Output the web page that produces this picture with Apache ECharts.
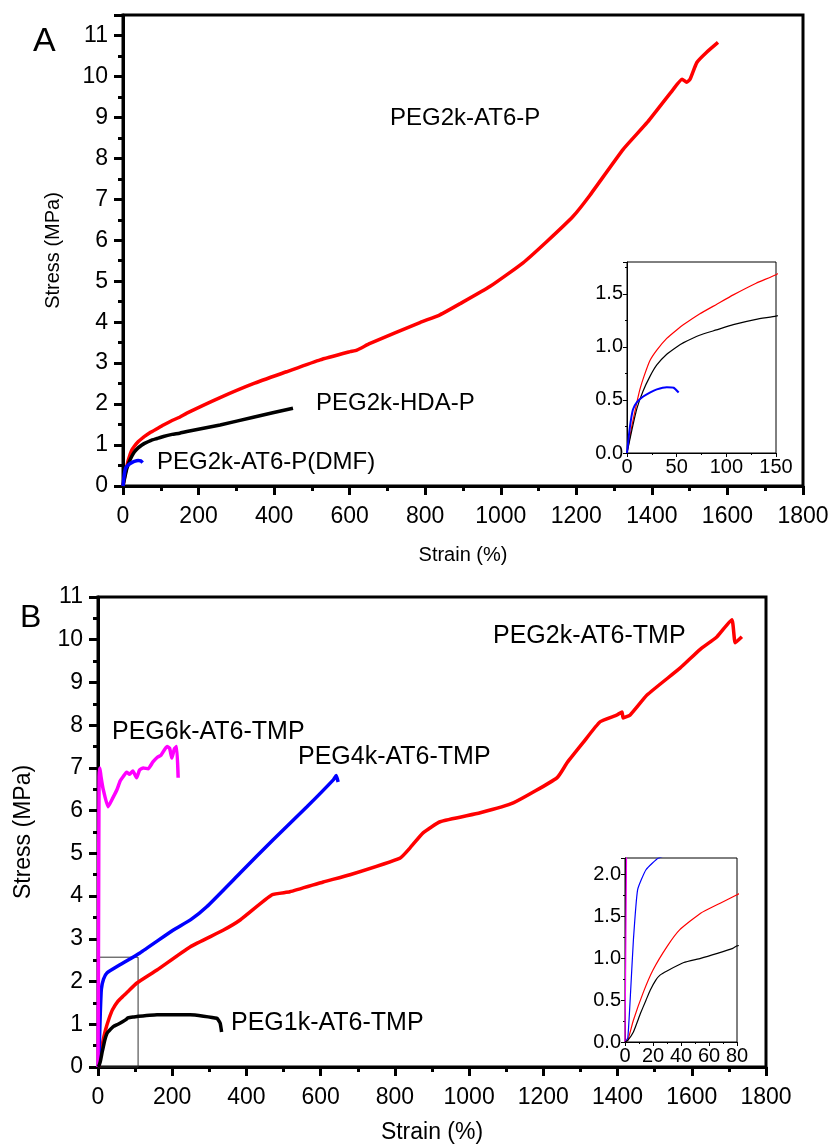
<!DOCTYPE html>
<html>
<head>
<meta charset="utf-8">
<script src="https://cdn.jsdelivr.net/npm/echarts@6/dist/echarts.min.js"></script>
<style>
html,body{margin:0;padding:0;background:#fff;}
#chart{width:833px;height:1146px;}
</style>
</head>
<body>
<div id="chart"></div>
<script>
// panel A: [strain %, stress MPa]
var a_at6p = [[0,0],[5,0.26],[10,0.48],[13,0.6],[17,0.72],[23,0.87],[30,0.97],[40,1.08],[50,1.16],[57,1.21],[73,1.31],[90,1.40],[107,1.49],[130,1.60],[150,1.68],[169,1.78],[257,2.16],[345,2.50],[433,2.79],[522,3.08],[601,3.28],[619,3.32],[654,3.48],[786,3.99],[839,4.18],[892,4.45],[971,4.87],[1059,5.45],[1122,5.97],[1191,6.58],[1236,7.10],[1324,8.22],[1387,8.87],[1456,9.68],[1480,9.93],[1492,9.86],[1501,9.93],[1519,10.34],[1545,10.59],[1575,10.83]];
var a_hdap = [[0,0],[5,0.22],[10,0.42],[16,0.58],[23,0.72],[30,0.83],[40,0.93],[50,1.00],[57,1.04],[73,1.11],[90,1.16],[107,1.21],[130,1.26],[150,1.29],[169,1.33],[257,1.49],[345,1.68],[450,1.90]];
var a_dmf = [[0,0],[3,0.25],[6,0.41],[10,0.48],[16,0.53],[23,0.57],[30,0.60],[40,0.62],[47,0.615],[52,0.57]];

// panel B
var b_peg2k = [[0,0],[2,0.02],[6,0.26],[13,0.59],[20,0.86],[30,1.14],[39,1.34],[54,1.54],[68,1.66],[80,1.76],[104,1.96],[159,2.27],[248,2.81],[337,3.20],[383,3.44],[469,4.03],[517,4.10],[607,4.33],[679,4.50],[814,4.89],[841,5.13],[876,5.48],[922,5.74],[1030,5.95],[1119,6.18],[1237,6.77],[1264,7.12],[1307,7.59],[1353,8.08],[1399,8.24],[1412,8.31],[1415,8.17],[1434,8.24],[1480,8.71],[1569,9.34],[1622,9.77],[1668,10.07],[1708,10.47],[1717,9.93],[1735,10.07]];
var b_peg1k = [[0,0],[2,0.02],[6,0.12],[11,0.34],[15,0.50],[18,0.62],[22,0.74],[25,0.80],[30,0.85],[42,0.95],[54,1.00],[66,1.06],[77,1.12],[80,1.15],[94,1.17],[159,1.22],[248,1.22],[320,1.14],[329,1.03],[333,0.82]];
var b_peg4k = [[0,0],[2,0.05],[4,0.60],[6,1.22],[9,1.82],[15,2.06],[24,2.20],[51,2.35],[113,2.67],[202,3.20],[250,3.45],[293,3.75],[383,4.54],[472,5.32],[563,6.09],[634,6.72],[642,6.82],[647,6.67]];
var b_peg6k = [[0,0],[1,2.0],[2,5.0],[3,6.8],[5,7.0],[8,6.8],[14,6.5],[27,6.09],[40,6.3],[51,6.49],[60,6.70],[68,6.80],[77,6.90],[85,6.85],[94,6.93],[104,6.77],[112,6.95],[122,7.00],[135,6.98],[148,7.14],[160,7.25],[170,7.30],[186,7.50],[193,7.46],[199,7.23],[206,7.45],[212,7.50],[216,6.77]];
var b_zoomBox = [108, 2.57];

var FONT = '"Liberation Sans", Arial, sans-serif';
var myChart = echarts.init(document.getElementById('chart'));

function mainX(grid, nameGap, nameSize){
	return {
		gridIndex: grid, type: 'value', min: 0, max: 1800, interval: 200,
		name: 'Strain (%)', nameLocation: 'middle', nameGap: nameGap,
		nameTextStyle: {fontFamily: FONT, fontSize: nameSize, color: '#000'},
		axisLine: {onZero: false, lineStyle: {color: '#000', width: 3}},
		axisTick: {length: 9, lineStyle: {color: '#000', width: 3}},
		minorTick: {show: true, splitNumber: 2, length: 5, lineStyle: {color: '#000', width: 3}},
		axisLabel: {fontFamily: FONT, fontSize: 23, color: '#000', margin: 19,
			formatter: function(v){ return String(v); }},
		splitLine: {show: false}
	};
}
function mainY(grid, max, nameGap, nameSize){
	return {
		gridIndex: grid, type: 'value', min: 0, max: max, interval: 1,
		name: 'Stress (MPa)', nameLocation: 'middle', nameGap: nameGap,
		nameTextStyle: {fontFamily: FONT, fontSize: nameSize, color: '#000'},
		axisLine: {onZero: false, lineStyle: {color: '#000', width: 3}},
		axisTick: {length: 9, lineStyle: {color: '#000', width: 3}},
		minorTick: {show: true, splitNumber: 2, length: 5, lineStyle: {color: '#000', width: 3}},
		axisLabel: {fontFamily: FONT, fontSize: 23, color: '#000', margin: 15, showMaxLabel: max == 11},
		splitLine: {show: false}
	};
}
function insetX(grid, max, interval){
	return {
		gridIndex: grid, type: 'value', min: 0, max: max, interval: interval,
		axisLine: {onZero: false, lineStyle: {color: '#000', width: 1}},
		axisTick: {length: 4, lineStyle: {color: '#000', width: 1}},
		minorTick: {show: true, splitNumber: 2, length: 2, lineStyle: {color: '#000', width: 1}},
		axisLabel: {fontFamily: FONT, fontSize: 20, color: '#000', margin: 4, interval: 0},
		splitLine: {show: false}
	};
}
function insetY(grid, max){
	return {
		gridIndex: grid, type: 'value', min: 0, max: max, interval: 0.5,
		axisLine: {onZero: false, lineStyle: {color: '#000', width: 1}},
		axisTick: {length: 4, lineStyle: {color: '#000', width: 1}},
		minorTick: {show: true, splitNumber: 2, length: 2, lineStyle: {color: '#000', width: 1}},
		axisLabel: {fontFamily: FONT, fontSize: 20, color: '#000', margin: 4, showMaxLabel: false,
			formatter: function(v){ return v.toFixed(1); }},
		splitLine: {show: false}
	};
}
function curve(name, data, color, width, xi){
	return {
		name: name, type: 'line', data: data, xAxisIndex: xi, yAxisIndex: xi,
		showSymbol: false, symbol: 'none', smooth: 0.15, clip: true,
		lineStyle: {color: color, width: width}, z: 3
	};
}
function txt(x, y, s, size){
	return {type: 'text', x: x, y: y, style: {text: s, fontFamily: FONT, fontSize: size, fill: '#000', verticalAlign: 'middle'}};
}

var option = {
	backgroundColor: '#fff',
	animation: false,
	grid: [
		{left: 123, top: 15, width: 680, height: 471, show: true, borderColor: '#000', borderWidth: 3},
		{left: 627, top: 262, width: 149, height: 191, show: true, borderColor: '#000', borderWidth: 1},
		{left: 98, top: 597, width: 668, height: 470, show: true, borderColor: '#000', borderWidth: 3},
		{left: 625, top: 858, width: 112, height: 184, show: true, borderColor: '#000', borderWidth: 1}
	],
	xAxis: [mainX(0, 59, 20), insetX(1, 150, 50), mainX(2, 54, 23), insetX(3, 80, 20)],
	yAxis: [mainY(0, 11.5, 60, 20), insetY(1, 1.8), mainY(2, 11, 63, 23), insetY(3, 2.2)],
	series: [
		curve('PEG2k-AT6-P', a_at6p, '#ff0000', 3.5, 0),
		curve('PEG2k-HDA-P', a_hdap, '#000000', 3.5, 0),
		curve('PEG2k-AT6-P(DMF)', a_dmf, '#0000ff', 3.5, 0),
		curve('PEG2k-AT6-P', a_at6p, '#ff0000', 1.2, 1),
		curve('PEG2k-HDA-P', a_hdap, '#000000', 1.2, 1),
		curve('PEG2k-AT6-P(DMF)', a_dmf, '#0000ff', 2, 1),
		curve('PEG2k-AT6-TMP', b_peg2k, '#ff0000', 3.5, 2),
		curve('PEG4k-AT6-TMP', b_peg4k, '#0000ff', 3.5, 2),
		curve('PEG6k-AT6-TMP', b_peg6k, '#ff00ff', 3.5, 2),
		(function(){
			var s = curve('PEG1k-AT6-TMP', b_peg1k, '#000000', 3.5, 2);
			s.markArea = {silent: true, itemStyle: {color: 'rgba(0,0,0,0)', borderColor: '#333', borderWidth: 1},
				data: [[{coord: [0, 0]}, {coord: b_zoomBox}]]};
			return s;
		})(),
		curve('PEG2k-AT6-TMP', b_peg2k, '#ff0000', 1.2, 3),
		curve('PEG4k-AT6-TMP', b_peg4k, '#0000ff', 1.2, 3),
		curve('PEG6k-AT6-TMP', b_peg6k, '#ff00ff', 1.2, 3),
		curve('PEG1k-AT6-TMP', b_peg1k, '#000000', 1.2, 3)
	],
	graphic: [
		txt(33, 42, 'A', 34),
		txt(20, 618, 'B', 32),
		txt(390, 118, 'PEG2k-AT6-P', 24),
		txt(316, 403, 'PEG2k-HDA-P', 24),
		txt(157, 462, 'PEG2k-AT6-P(DMF)', 24),
		txt(112, 732, 'PEG6k-AT6-TMP', 25),
		txt(298, 757, 'PEG4k-AT6-TMP', 25),
		txt(493, 636, 'PEG2k-AT6-TMP', 25),
		txt(231, 1023, 'PEG1k-AT6-TMP', 25)
	]
};
myChart.setOption(option);
</script>
</body>
</html>
